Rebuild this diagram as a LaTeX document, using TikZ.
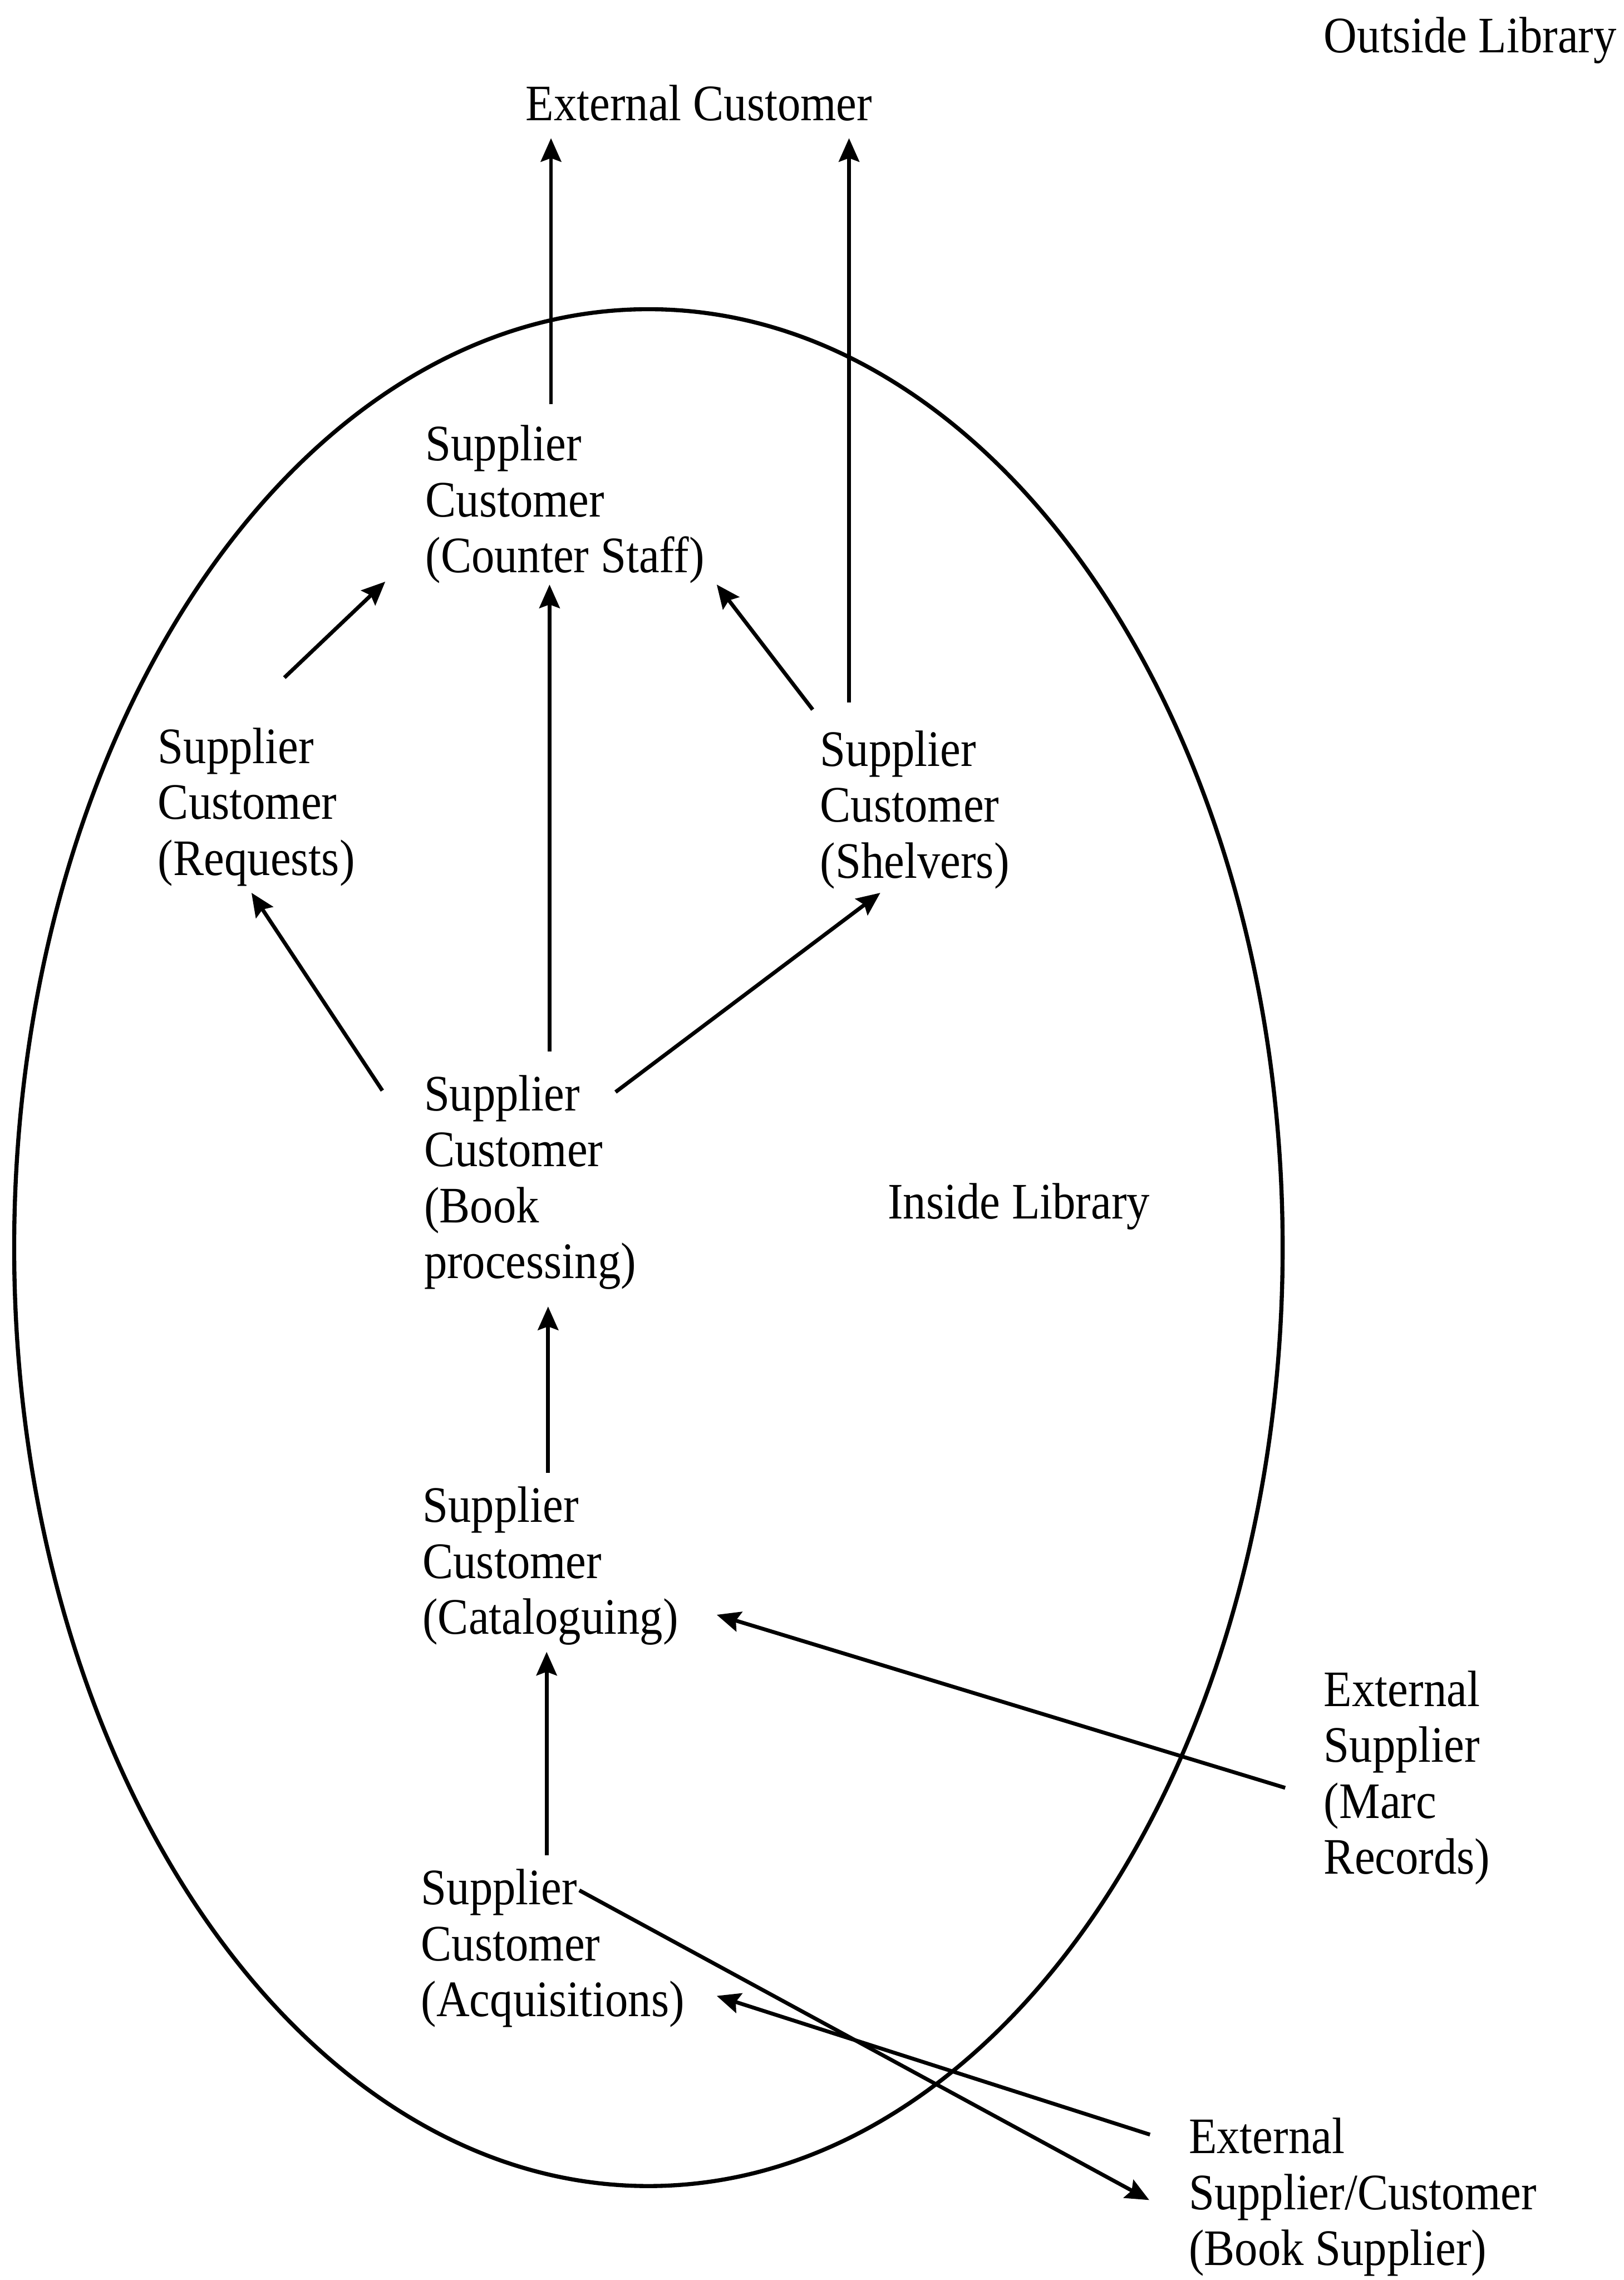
\documentclass[tikz,border=0pt]{standalone}
\usepackage{fontspec}
\setmainfont{Liberation Serif}[FakeStretch=0.9]
\usepackage{tikz}
\usetikzlibrary{arrows.meta,calc,positioning}
\tikzstyle{party}=[anchor=base west,inner sep=0pt,align=left,font=\fontsize{10}{10.93}\selectfont]
\tikzstyle{flow}=[-{Stealth[length=4.6pt,width=4pt,inset=0.7pt]},line width=0.75pt]

\begin{document}
\begin{tikzpicture}[x=0.01cm,y=-0.01cm]
  \useasboundingbox (0,0) rectangle (1117,1568);
  % the library
  \draw[line width=0.8pt] (446,858) ellipse [x radius=4.36cm, y radius=6.45cm];

  \node[party] (outside) at (910,36) {Outside Library};
  \node[party] (inside) at (610,838) {Inside Library};

  % nodes are placed at the baseline of their last line
  \node[party] (extCust)  at (361,83)      {External Customer};
  \node[party] (counter)  at (292,393.8)   {Supplier\\Customer\\(Counter Staff)};
  \node[party] (requests) at (108,601.8)   {Supplier\\Customer\\(Requests)};
  \node[party] (shelvers) at (563.5,603.8) {Supplier\\Customer\\(Shelvers)};
  \node[party] (bookProc) at (291,879.2)   {Supplier\\Customer\\(Book\\processing)};
  \node[party] (catalog)  at (290,1123.8)  {Supplier\\Customer\\(Cataloguing)};
  \node[party] (acquis)   at (289,1386.8)  {Supplier\\Customer\\(Acquisitions)};
  \node[party] (marc)     at (910,1288.7)  {External\\Supplier\\(Marc\\Records)};
  \node[party] (bookSup)  at (817,1557.8)  {External\\Supplier/Customer\\(Book Supplier)};

  % out of the library
  \draw[flow] ($(counter.base west)+(87,-115.8)$) -- ($(extCust.base west)+(18,12)$);
  \draw[flow] ($(shelvers.base west)+(20.5,-120.8)$) -- ($(extCust.base west)+(223,12)$);
  % to the counter
  \draw[flow] ($(requests.base west)+(87.6,-135.8)$) -- ($(counter.base west)+(-27,6.2)$);
  \draw[flow] ($(bookProc.base west)+(87,-156.2)$) -- ($(counter.base west)+(86,8.2)$);
  \draw[flow] ($(shelvers.base west)+(-4.5,-115.8)$) -- ($(counter.base west)+(201,8.2)$);
  % from book processing
  \draw[flow] ($(bookProc.base west)+(-28,-129.2)$) -- ($(requests.base west)+(65,12.2)$);
  \draw[flow] ($(bookProc.base west)+(132.4,-128.2)$) -- ($(shelvers.base west)+(42,10.2)$);
  % up the chain
  \draw[flow] ($(catalog.base west)+(87,-110.8)$) -- ($(bookProc.base west)+(86,19.3)$);
  \draw[flow] ($(acquis.base west)+(87,-110.8)$) -- ($(catalog.base west)+(86,12.2)$);
  % external suppliers
  \draw[flow] ($(marc.base west)+(-26,-59.2)$) -- ($(catalog.base west)+(203,-13.3)$);
  \draw[flow] ($(bookSup.base west)+(-26,-89.8)$) -- ($(acquis.base west)+(204,-14.2)$);
  \draw[flow] ($(acquis.base west)+(109.5,-86.8)$) -- ($(bookSup.base west)+(-26.5,-44.8)$);
\end{tikzpicture}
\end{document}
